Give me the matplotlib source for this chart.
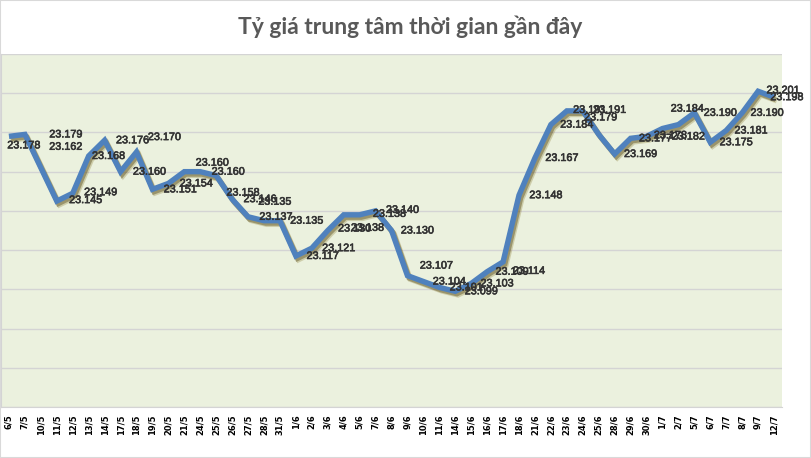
import matplotlib
matplotlib.use("Agg")
import matplotlib.pyplot as plt
import matplotlib.patheffects as pe
from matplotlib.patches import Rectangle

dates = ["6/5", "7/5", "10/5", "11/5", "12/5", "13/5", "14/5", "17/5", "18/5", "19/5",
         "20/5", "21/5", "24/5", "25/5", "26/5", "27/5", "28/5", "31/5", "1/6", "2/6",
         "3/6", "4/6", "5/6", "7/6", "8/6", "9/6", "10/6", "11/6", "14/6", "15/6",
         "16/6", "17/6", "18/6", "21/6", "22/6", "23/6", "24/6", "25/6", "28/6", "29/6",
         "30/6", "1/7", "2/7", "5/7", "6/7", "7/7", "8/7", "9/7", "12/7"]
rates = [23.178, 23.179, 23.162, 23.145, 23.149, 23.168, 23.176, 23.160, 23.170, 23.151,
         23.154, 23.160, 23.160, 23.158, 23.146, 23.137, 23.135, 23.135, 23.117, 23.121,
         23.130, 23.138, 23.138, 23.140, 23.130, 23.107, 23.104, 23.101, 23.099, 23.103,
         23.109, 23.114, 23.148, 23.167, 23.184, 23.191, 23.191, 23.179, 23.169, 23.177,
         23.178, 23.182, 23.184, 23.190, 23.175, 23.181, 23.190, 23.201, 23.198]
y_ticks = [23.04, 23.06, 23.08, 23.10, 23.12, 23.14, 23.16, 23.18, 23.20, 23.22]

# label placement offsets in pixels (dx right, dy down) relative to each point
label_offsets = [(15, 9), (41, 0), (25, -21), (29, -1), (28, -1), (20, 0), (28, 0), (29, 0),
                 (28, -15), (28, 0), (28, 0), (28, -9), (28, 0), (27, 17), (28, 0), (28, 0),
                 (11, -19), (27, 0), (27, 0), (27, 0), (27, -2), (24, 13), (30, -1), (27, -1),
                 (26, 0), (29, -10), (26, 0), (27, 0), (26, 0), (26, 0), (25, 0), (26, 9),
                 (27, 0), (27, 0), (26, 0), (23, -1), (27, -1), (2, -17), (26, 0), (25, 0),
                 (24, -1), (26, 8), (9, -16), (26, 0), (26, 0), (25, 0), (25, 0), (25, -1),
                 (13, 0)]

W, H = 811, 458
fig = plt.figure(figsize=(W / 100, H / 100), dpi=100)
fig.patch.set_facecolor("white")
fig.patches.append(Rectangle((0, 0), 1, 1, transform=fig.transFigure, fill=False,
                             edgecolor="#d9d9d9", linewidth=1.5))

ax = fig.add_axes([1 / W, (H - 407) / H, 781 / W, (407 - 54) / H])
ax.set_facecolor("#ebf1de")

x = list(range(len(dates)))
ax.plot(x, rates, color="#4f81bd", linewidth=3.9, solid_joinstyle="miter",
        solid_capstyle="butt", zorder=3,
        path_effects=[pe.SimpleLineShadow(offset=(2.0, -2.6), shadow_color="#8a7a30", alpha=0.3),
                      pe.SimpleLineShadow(offset=(1.2, -1.7), shadow_color="#5c5020", alpha=0.45),
                      pe.Normal()])

for xi, v, (dx, dy) in zip(x, rates, label_offsets):
    ax.annotate(f"{v:.3f}", (xi, v), xytext=(dx, -dy), textcoords="offset pixels",
                ha="center", va="center", fontsize=7.8, color="#333333",
                family="Liberation Sans", zorder=5, annotation_clip=False,
                path_effects=[pe.withStroke(linewidth=0.45, foreground="#333333")])

ax.set_xlim(-0.5, len(dates) - 0.5)
ax.set_ylim(y_ticks[0], y_ticks[-1])
ax.set_yticks(y_ticks)
ax.set_yticklabels([])
ax.grid(axis="y", color="#d4d4d4", linewidth=1)
ax.set_axisbelow(True)
ax.set_xticks(x)
ax.set_xticklabels(dates, rotation=90, fontsize=6, fontweight="bold", family="DejaVu Sans")
ax.tick_params(axis="x", length=0, pad=5.5, colors="black")
ax.tick_params(axis="y", length=0)
for side in ["top", "right"]:
    ax.spines[side].set_visible(False)
ax.spines["left"].set_color("#d4d4d4")
ax.spines["bottom"].set_color("#d4d4d4")

fig.text(410 / W, 1 - 27 / H, "Tỷ giá trung tâm thời gian gần đây", ha="center", va="center",
         fontsize=16.5, fontweight="bold", color="#595959", family=["Lato", "Open Sans", "DejaVu Sans"])

fig.savefig("out.png", dpi=100)
